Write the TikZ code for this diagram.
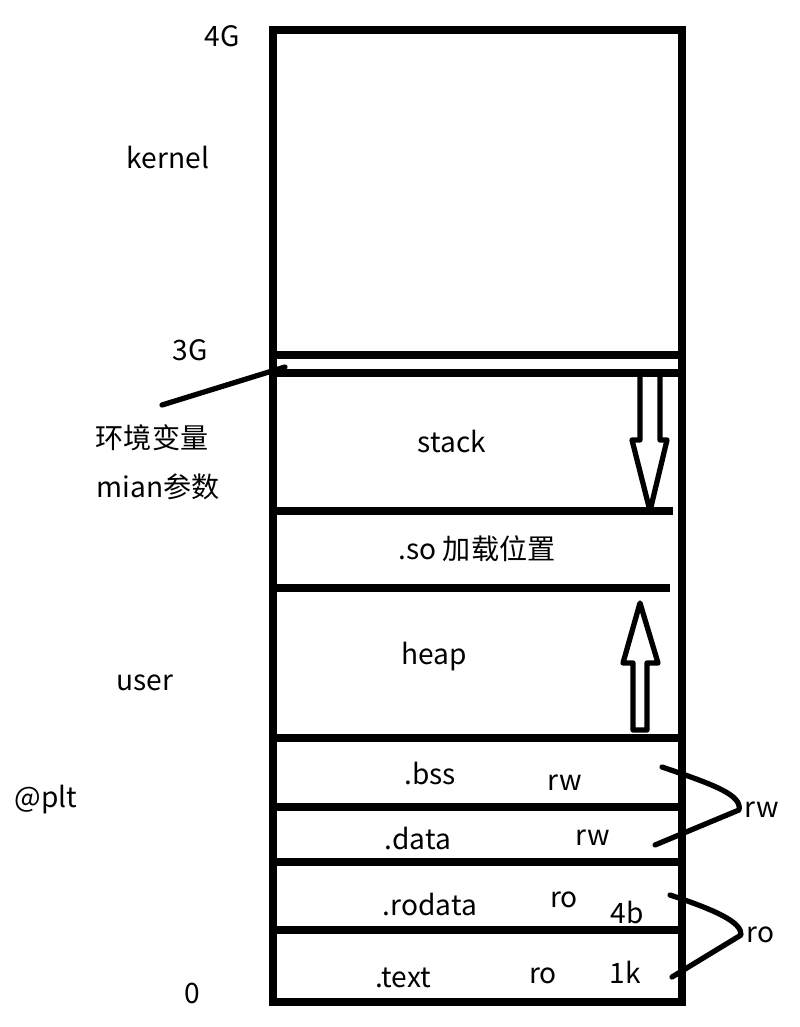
\documentclass[tikz,border=0pt]{standalone}
\usepackage{fontspec}
\setmainfont{Noto Sans CJK SC}
\begin{document}
\begin{tikzpicture}[x=0.02cm,y=-0.02cm,
    lbl/.style={font=\fontsize{16}{18}\selectfont,inner sep=3pt},
    wall/.style={line width=5pt},
    sep/.style={line width=4.5pt},
    hand/.style={line width=3pt,line cap=round,line join=round}]
  \useasboundingbox (0,0) rectangle (800,1027);

  % address space
  \draw[wall] (273,30) rectangle (682,1002);
  \draw[sep] (273,355) -- (682,355);
  \draw[sep] (273,373) -- (682,373);
  \draw[sep] (273,511) -- (673,511);
  \draw[sep] (273,588) -- (670,588);
  \foreach \y in {738,807,862,930}
    \draw[sep] (273,\y) -- (682,\y);

  % growth arrows
  \draw[hand] (640,373) -- (640,440) -- (632,440) -- (650,511) -- (667,440) -- (660,440) -- (660,373);
  \draw[hand] (633,730) -- (633,663) -- (623,663) -- (640,603) -- (658,663) -- (647,663) -- (647,730) -- cycle;

  % labels
  \node[lbl] (top) at (222,36) {4G};
  \node[lbl] (kernel) at (168,157) {kernel};
  \node[lbl] (mid) at (190,350) {3G};
  \node[lbl] (env) at (152,438) {环境变量};
  \node[lbl] (args) at (158,487) {mian参数};
  \node[lbl] (user) at (145,683) {user};
  \node[lbl] (plt) at (46,800) {@plt};
  \node[lbl] (zero) at (192,993) {0};

  \node[lbl] (stack) at (452,441) {stack};
  \node[lbl] (so) at (477,549) {.so 加载位置};
  \node[lbl] (heap) at (434,657) {heap};
  \node[lbl] (bss) at (430,773) {.bss};
  \node[lbl] (bssrw) at (565,783) {rw};
  \node[lbl] (data) at (418,838) {.data};
  \node[lbl] (datarw) at (593,838) {rw};
  \node[lbl] (rodata) at (430,904) {.rodata};
  \node[lbl] (rodataro) at (564,900) {ro};
  \node[lbl] (rodatasz) at (627,912) {4b};
  \node[lbl] (text) at (403,978) {.text};
  \node[lbl] (textro) at (543,976) {ro};
  \node[lbl] (textsz) at (625,972) {1k};

  \node[lbl,anchor=west] (rwall) at (739,810) {rw};
  \node[lbl,anchor=west] (roall) at (741,935) {ro};

  % pointers
  \coordinate (envtip) at (162,405);
  \coordinate (stacktop) at (285,367);
  \draw[hand] (envtip) -- (stacktop);

  \coordinate (rwa) at (662,767);
  \coordinate (rwb) at (655,845);
  \draw[hand] (rwa) .. controls (715,785) and (742,795) .. (rwall.west) -- (rwb);
  \coordinate (roa) at (670,895);
  \coordinate (rob) at (672,977);
  \draw[hand] (roa) .. controls (715,910) and (742,922) .. (roall.west) -- (rob);
\end{tikzpicture}
\end{document}
